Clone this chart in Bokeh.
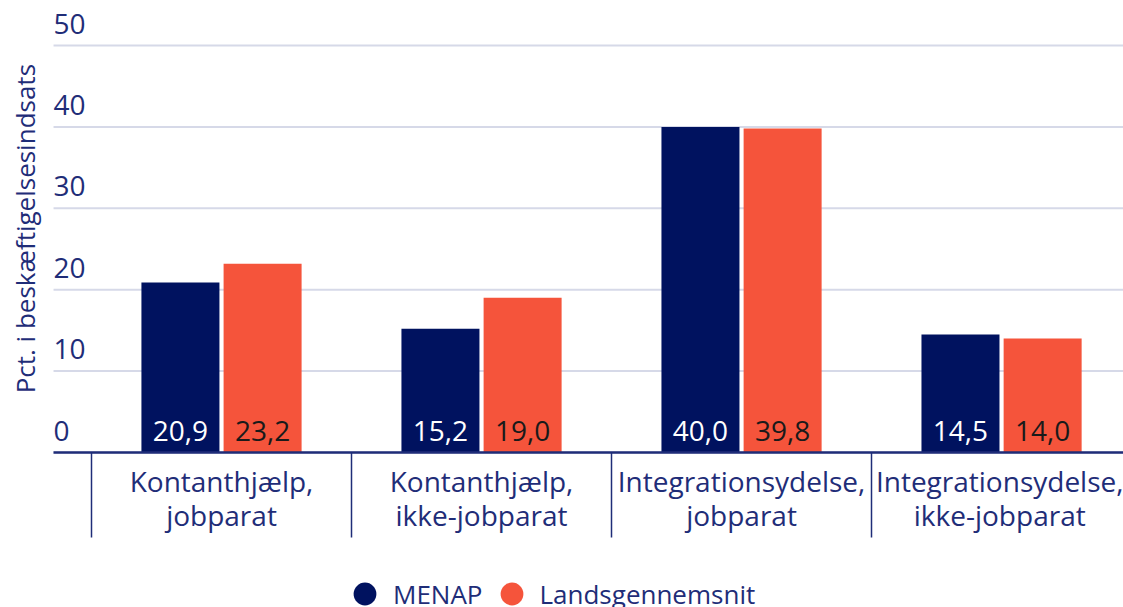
import math
from bokeh.plotting import figure
from bokeh.models import (ColumnDataSource, Range1d, FixedTicker, Legend, LegendItem)
from bokeh.transform import dodge
from bokeh.core.properties import value
from bokeh.embed import file_html
from bokeh.resources import INLINE

categories = ["Kontanthjælp,\njobparat", "Kontanthjælp,\nikke-jobparat",
              "Integrationsydelse,\njobparat", "Integrationsydelse,\nikke-jobparat"]
menap = [20.9, 15.2, 40.0, 14.5]
lands = [23.2, 19.0, 39.8, 14.0]
series_names = ["MENAP", "Landsgennemsnit"]
y_ticks = [0, 10, 20, 30, 40, 50]
y_title = "Pct. i beskæftigelsesindsats"

NAVY = "#00125f"
ORANGE = "#f5543b"
TXT = "#1f2d78"
FONT = "Open Sans"

xs = list(range(len(categories)))
fmt = lambda v: f"{v:.1f}".replace(".", ",")
src = ColumnDataSource(dict(x=xs, menap=menap, lands=lands,
                            zero=[0] * len(xs),
                            menap_lbl=[fmt(v) for v in menap],
                            lands_lbl=[fmt(v) for v in lands]))

# ranges: the frame covers the whole canvas
X0, X1 = -0.85, 3.469
Y0, Y1 = -19.04, 55.53
G0 = -0.646          # left end of grid / plotting area
p = figure(frame_width=1123, frame_height=607, output_backend="svg", toolbar_location=None,
           x_range=Range1d(X0, X1), y_range=Range1d(Y0, Y1),
           y_axis_location=None, x_axis_location="below",
           min_border=0, min_border_left=0, min_border_right=0,
           min_border_top=0, min_border_bottom=0)
p.outline_line_color = None
p.background_fill_color = "white"
p.xgrid.grid_line_color = None
p.ygrid.grid_line_color = None

# grid lines from the tick list
p.segment(x0=[G0] * len(y_ticks), x1=[X1] * len(y_ticks), y0=y_ticks, y1=y_ticks,
          line_color="#d6d9e8", line_width=2)

off = 0.158
w = 0.3
p.vbar(x=dodge("x", -off), top="menap", width=w, source=src, fill_color=NAVY, line_color=None)
p.vbar(x=dodge("x", off), top="lands", width=w, source=src, fill_color=ORANGE, line_color=None)

p.text(x=dodge("x", -off), y="zero", text="menap_lbl", source=src, text_align="center",
       text_baseline="bottom", y_offset=-12, text_color="white", text_font=value(FONT),
       text_font_size="28px")
p.text(x=dodge("x", off), y="zero", text="lands_lbl", source=src, text_align="center",
       text_baseline="bottom", y_offset=-12, text_color="#1a1a1a", text_font=value(FONT),
       text_font_size="28px")

# y tick labels placed above grid lines
tick_src = ColumnDataSource(dict(x=[G0] * len(y_ticks), y=y_ticks, t=[str(t) for t in y_ticks]))
p.text(x="x", y="y", text="t", source=tick_src, text_align="left", text_baseline="bottom",
       y_offset=-12, text_color=TXT, text_font=value(FONT), text_font_size="28px")

# y axis title (rotated)
p.text(x=[-0.754], y=[27.5], text=[y_title], angle=math.pi / 2, text_align="center",
       text_baseline="middle", text_color=TXT, text_font=value(FONT), text_font_size="26px")

# x axis at y=0: category labels at centers, separators as minor ticks
p.xaxis.fixed_location = 0
p.xaxis.bounds = (G0, X1)
p.xaxis.ticker = FixedTicker(ticks=xs, minor_ticks=[i - 0.5 for i in range(len(xs) + 1)])
p.xaxis.major_label_overrides = {i: c for i, c in zip(xs, categories)}
p.xaxis.major_tick_line_color = None
p.xaxis.major_tick_out = 0
p.xaxis.major_tick_in = 0
p.xaxis.minor_tick_out = 85
p.xaxis.minor_tick_in = 0
p.xaxis.minor_tick_line_color = TXT
p.xaxis.minor_tick_line_width = 1.5
p.xaxis.axis_line_color = TXT
p.xaxis.axis_line_width = 2.5
p.xaxis.major_label_text_font = FONT
p.xaxis.major_label_text_font_size = "28px"
p.xaxis.major_label_text_color = TXT
p.xaxis.major_label_text_line_height = 0.9
p.xaxis.major_label_standoff = -76

# legend with circle markers (zero-size markers in the plot; legend draws its own size)
c1 = p.scatter(x="x", y="menap", source=src, size=0, marker="circle", fill_color=NAVY, line_color=None)
c2 = p.scatter(x="x", y="lands", source=src, size=0, marker="circle", fill_color=ORANGE, line_color=None)
legend = Legend(items=[LegendItem(label=series_names[0], renderers=[c1]),
                       LegendItem(label=series_names[1], renderers=[c2])],
                orientation="horizontal", location=(336, -15),
                glyph_width=57, glyph_height=57, label_standoff=0, spacing=0,
                padding=0, margin=0, border_line_color=None, background_fill_alpha=0,
                label_text_font=FONT, label_text_font_size="26px", label_text_color=TXT)
p.add_layout(legend, "center")

open("out.html", "w").write(file_html(p, INLINE))
